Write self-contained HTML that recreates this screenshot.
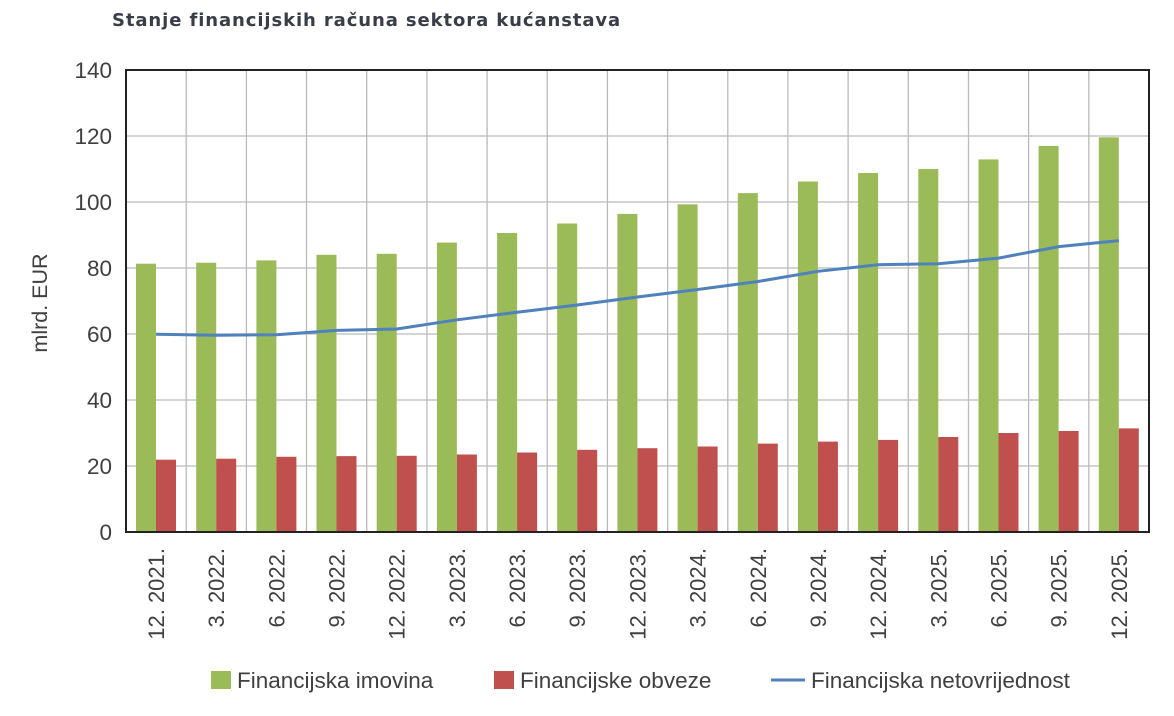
<!DOCTYPE html>
<html><head><meta charset="utf-8"><style>
body{margin:0;background:#fff;}
text{font-family:"Liberation Sans",Arial,sans-serif;fill:#404040;}
</style></head><body>
<svg width="1174" height="711" xmlns="http://www.w3.org/2000/svg">
<text x="112" y="26" style="font-family:'DejaVu Sans',sans-serif;font-weight:bold;font-size:18px;letter-spacing:0.9px;fill:#3a3d48">Stanje financijskih računa sektora kućanstava</text>
<g stroke="#bbb" stroke-width="1.3">
<line x1="126" x2="1149" y1="466" y2="466"/><line x1="126" x2="1149" y1="400" y2="400"/><line x1="126" x2="1149" y1="334" y2="334"/><line x1="126" x2="1149" y1="268" y2="268"/><line x1="126" x2="1149" y1="202" y2="202"/><line x1="126" x2="1149" y1="136" y2="136"/>
<line x1="186.2" x2="186.2" y1="70" y2="532"/><line x1="246.4" x2="246.4" y1="70" y2="532"/><line x1="306.5" x2="306.5" y1="70" y2="532"/><line x1="366.7" x2="366.7" y1="70" y2="532"/><line x1="426.9" x2="426.9" y1="70" y2="532"/><line x1="487.1" x2="487.1" y1="70" y2="532"/><line x1="547.2" x2="547.2" y1="70" y2="532"/><line x1="607.4" x2="607.4" y1="70" y2="532"/><line x1="667.6" x2="667.6" y1="70" y2="532"/><line x1="727.8" x2="727.8" y1="70" y2="532"/><line x1="787.9" x2="787.9" y1="70" y2="532"/><line x1="848.1" x2="848.1" y1="70" y2="532"/><line x1="908.3" x2="908.3" y1="70" y2="532"/><line x1="968.5" x2="968.5" y1="70" y2="532"/><line x1="1028.6" x2="1028.6" y1="70" y2="532"/><line x1="1088.8" x2="1088.8" y1="70" y2="532"/>
</g>
<g font-size="22.5" text-anchor="end">
<text x="112" y="540">0</text><text x="112" y="474">20</text><text x="112" y="408">40</text><text x="112" y="342">60</text><text x="112" y="276">80</text><text x="112" y="210">100</text><text x="112" y="144">120</text><text x="112" y="78">140</text>
</g>
<g fill="#9bbb59">
<rect x="136" y="263.7" width="20" height="268.3"/>
<rect x="196.2" y="262.7" width="20" height="269.3"/>
<rect x="256.4" y="260.4" width="20" height="271.6"/>
<rect x="316.5" y="254.8" width="20" height="277.2"/>
<rect x="376.7" y="253.8" width="20" height="278.2"/>
<rect x="436.9" y="242.6" width="20" height="289.4"/>
<rect x="497.1" y="233.0" width="20" height="299.0"/>
<rect x="557.2" y="223.5" width="20" height="308.5"/>
<rect x="617.4" y="213.9" width="20" height="318.1"/>
<rect x="677.6" y="204.3" width="20" height="327.7"/>
<rect x="737.8" y="193.1" width="20" height="338.9"/>
<rect x="797.9" y="181.5" width="20" height="350.5"/>
<rect x="858.1" y="173.0" width="20" height="359.0"/>
<rect x="918.3" y="169.0" width="20" height="363.0"/>
<rect x="978.5" y="159.4" width="20" height="372.6"/>
<rect x="1038.6" y="145.9" width="20" height="386.1"/>
<rect x="1098.8" y="137.3" width="20" height="394.7"/>
</g>
<g fill="#c0504d">
<rect x="156" y="459.7" width="20" height="72.3"/>
<rect x="216.2" y="458.7" width="20" height="73.3"/>
<rect x="276.4" y="456.8" width="20" height="75.2"/>
<rect x="336.5" y="456.1" width="20" height="75.9"/>
<rect x="396.7" y="455.8" width="20" height="76.2"/>
<rect x="456.9" y="454.5" width="20" height="77.5"/>
<rect x="517.1" y="452.5" width="20" height="79.5"/>
<rect x="577.2" y="449.8" width="20" height="82.2"/>
<rect x="637.4" y="448.2" width="20" height="83.8"/>
<rect x="697.6" y="446.5" width="20" height="85.5"/>
<rect x="757.8" y="443.6" width="20" height="88.4"/>
<rect x="817.9" y="441.6" width="20" height="90.4"/>
<rect x="878.1" y="439.9" width="20" height="92.1"/>
<rect x="938.3" y="437.0" width="20" height="95.0"/>
<rect x="998.5" y="433.0" width="20" height="99.0"/>
<rect x="1058.6" y="431.0" width="20" height="101.0"/>
<rect x="1118.8" y="428.4" width="20" height="103.6"/>
</g>
<polyline fill="none" stroke="#4f81bd" stroke-width="3" points="156.1,334.3 216.3,335.3 276.5,334.7 336.6,330.4 396.8,329.0 457,319.8 517.2,312.2 577.3,305.0 637.5,297.0 697.7,289.5 757.9,281.5 818,271.3 878.2,264.7 938.4,263.7 998.6,258.1 1058.7,246.6 1118.9,240.6"/>
<rect x="126" y="70" width="1023" height="462" fill="none" stroke="#222" stroke-width="2"/>
<g font-size="22" text-anchor="end">
<text transform="translate(164,548) rotate(-90)">12. 2021.</text>
<text transform="translate(224.2,548) rotate(-90)">3. 2022.</text>
<text transform="translate(284.4,548) rotate(-90)">6. 2022.</text>
<text transform="translate(344.5,548) rotate(-90)">9. 2022.</text>
<text transform="translate(404.7,548) rotate(-90)">12. 2022.</text>
<text transform="translate(464.9,548) rotate(-90)">3. 2023.</text>
<text transform="translate(525.1,548) rotate(-90)">6. 2023.</text>
<text transform="translate(585.2,548) rotate(-90)">9. 2023.</text>
<text transform="translate(645.4,548) rotate(-90)">12. 2023.</text>
<text transform="translate(705.6,548) rotate(-90)">3. 2024.</text>
<text transform="translate(765.8,548) rotate(-90)">6. 2024.</text>
<text transform="translate(825.9,548) rotate(-90)">9. 2024.</text>
<text transform="translate(886.1,548) rotate(-90)">12. 2024.</text>
<text transform="translate(946.3,548) rotate(-90)">3. 2025.</text>
<text transform="translate(1006.5,548) rotate(-90)">6. 2025.</text>
<text transform="translate(1066.6,548) rotate(-90)">9. 2025.</text>
<text transform="translate(1126.8,548) rotate(-90)">12. 2025.</text>
</g>
<text transform="translate(47,303) rotate(-90)" text-anchor="middle" font-size="21.5">mlrd. EUR</text>
<rect x="211" y="671" width="20" height="18" fill="#9bbb59"/><text x="237" y="688" font-size="22.5">Financijska imovina</text>
<rect x="494" y="671" width="20" height="18" fill="#c0504d"/><text x="520" y="688" font-size="22.5">Financijske obveze</text>
<line x1="771" x2="805" y1="680" y2="680" stroke="#4f81bd" stroke-width="3"/><text x="811" y="688" font-size="22.5">Financijska netovrijednost</text>
</svg>
</body></html>
